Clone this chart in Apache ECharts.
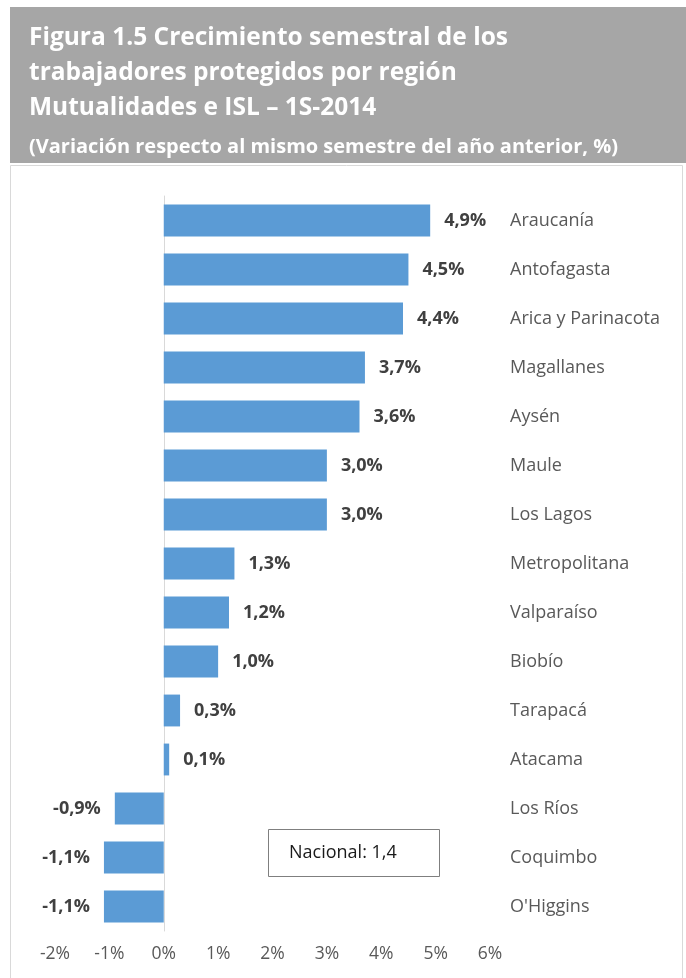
<!DOCTYPE html>
<html>
<head>
<meta charset="utf-8">
<script src="https://cdn.jsdelivr.net/npm/echarts@6/dist/echarts.min.js"></script>
<style>
  html, body { margin: 0; padding: 0; background: #fff; }
  #chart { width: 686px; height: 978px; }
</style>
</head>
<body>
<div id="chart"></div>
<script>
  const regions = ['Araucanía', 'Antofagasta', 'Arica y Parinacota', 'Magallanes', 'Aysén', 'Maule',
    'Los Lagos', 'Metropolitana', 'Valparaíso', 'Biobío', 'Tarapacá', 'Atacama', 'Los Ríos',
    'Coquimbo', "O'Higgins"];
  const growth = [4.9, 4.5, 4.4, 3.7, 3.6, 3.0, 3.0, 1.3, 1.2, 1.0, 0.3, 0.1, -0.9, -1.1, -1.1];
  const nationalNote = 'Nacional: 1,4';

  const fmt = v => v.toFixed(1).replace('.', ',') + '%';
  const font = '"Open Sans", sans-serif';

  const chart = echarts.init(document.getElementById('chart'), null, { renderer: 'canvas' });

  chart.setOption({
    animation: false,
    backgroundColor: '#fff',
    title: [{
      text: 'Figura 1.5 Crecimiento semestral de los\ntrabajadores protegidos por región\nMutualidades e ISL – 1S-2014',
      left: 24, top: 16,
      textStyle: { color: '#fff', fontFamily: font, fontWeight: 'bold', fontSize: 24.5, lineHeight: 35 }
    }, {
      text: '(Variación respecto al mismo semestre del año anterior, %)',
      left: 24, top: 130,
      textStyle: { color: '#fff', fontFamily: font, fontWeight: 'bold', fontSize: 20, lineHeight: 24 }
    }],
    graphic: [
      { type: 'rect', z: -10, silent: true, shape: { x: 10, y: 7, width: 676, height: 156 }, style: { fill: '#a6a6a6' } },
      { type: 'rect', z: -10, silent: true, shape: { x: 10.5, y: 165.5, width: 672, height: 820 }, style: { fill: '#fff', stroke: '#d9d9d9', lineWidth: 1 } },
      {
        type: 'group', left: 268, top: 829, children: [
          { type: 'rect', shape: { x: 0.5, y: 0.5, width: 171, height: 47 }, style: { fill: '#fff', stroke: '#7f7f7f', lineWidth: 1 } },
          { type: 'text', x: 21, y: 24, style: { text: nationalNote, fill: '#1a1a1a', font: '18px ' + font, verticalAlign: 'middle' } }
        ]
      }
    ],
    grid: { left: 55, right: 196, top: 196, bottom: 47 },
    xAxis: {
      type: 'value', min: -2, max: 6, interval: 1,
      axisLine: { show: false }, axisTick: { show: false }, splitLine: { show: false },
      axisLabel: { formatter: '{value}%', color: '#595959', fontFamily: font, fontSize: 17.5, margin: 14 }
    },
    yAxis: [{
      type: 'category', data: regions, inverse: true,
      axisLine: { show: true, onZero: true, lineStyle: { color: '#d9d9d9' } },
      axisTick: { show: false }, axisLabel: { show: false }
    }, {
      type: 'category', data: regions, inverse: true, position: 'right',
      axisLine: { show: false }, axisTick: { show: false },
      axisLabel: { color: '#595959', fontFamily: font, fontSize: 18, margin: 20 }
    }],
    series: [{
      type: 'bar', yAxisIndex: 0, barCategoryGap: '35%',
      itemStyle: { color: '#5b9bd5' },
      data: growth.map(v => ({
        value: v,
        label: {
          show: true, position: v < 0 ? 'left' : 'right', distance: 14,
          formatter: p => fmt(p.value), color: '#404040', fontFamily: font, fontWeight: 'bold', fontSize: 18
        }
      }))
    }]
  });
</script>
</body>
</html>
